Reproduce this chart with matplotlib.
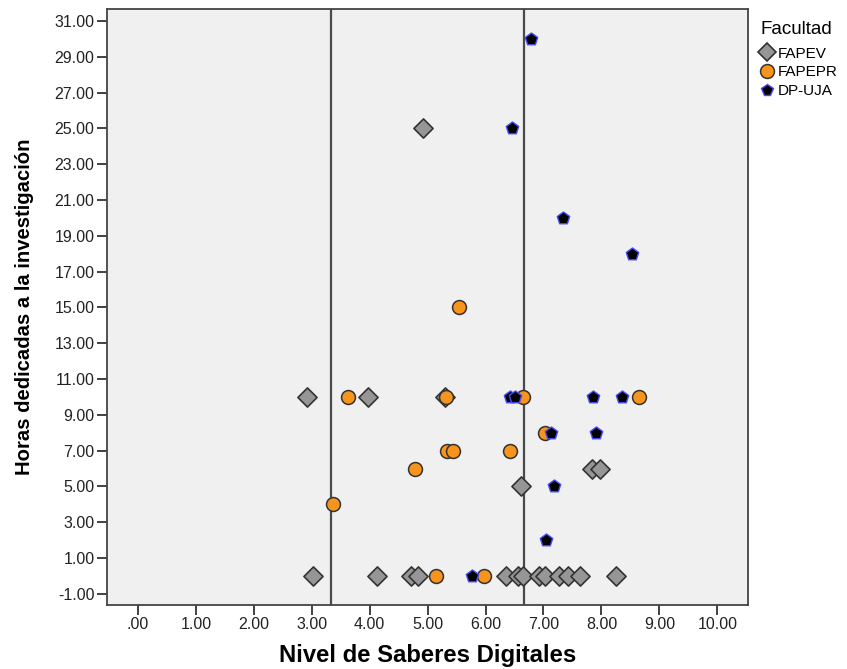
import matplotlib
matplotlib.use("Agg")
import matplotlib.pyplot as plt
from matplotlib.lines import Line2D

# Nivel de Saberes Digitales (x) vs Horas dedicadas a la investigación (y)
fapev_x = [4.92, 2.92, 3.97, 5.30, 6.61, 7.84, 7.98,
           3.02, 4.13, 4.72, 4.84, 6.36, 6.56, 6.65, 6.93, 7.03, 7.27, 7.43, 7.63, 8.26]
fapev_y = [25, 10, 10, 10, 5, 6, 6,
           0, 0, 0, 0, 0, 0, 0, 0, 0, 0, 0, 0, 0]

fapepr_x = [5.54, 3.63, 5.32, 6.65, 8.65, 7.02, 5.33, 5.43, 6.42, 4.78, 3.36, 5.15, 5.98]
fapepr_y = [15, 10, 10, 10, 10, 8, 7, 7, 7, 6, 4, 0, 0]

dpuja_x = [6.79, 6.45, 7.33, 8.52, 6.42, 6.50, 7.85, 8.36, 7.13, 7.91, 7.18, 7.05, 5.77]
dpuja_y = [30, 25, 20, 18, 10, 10, 10, 10, 8, 8, 5, 2, 0]

ref_lines = [10 / 3, 20 / 3]

x_ticks = [0, 1, 2, 3, 4, 5, 6, 7, 8, 9, 10]
x_labels = [".00", "1.00", "2.00", "3.00", "4.00", "5.00", "6.00", "7.00", "8.00", "9.00", "10.00"]
y_ticks = [-1, 1, 3, 5, 7, 9, 11, 13, 15, 17, 19, 21, 23, 25, 27, 29, 31]
y_labels = ["-1.00"] + ["%.2f" % v for v in y_ticks[1:]]

narrow = ["Liberation Sans Narrow", "Liberation Sans", "DejaVu Sans"]
wide = ["Liberation Sans", "DejaVu Sans"]
plt.rcParams["font.family"] = narrow

fig = plt.figure(figsize=(8.47, 6.69), dpi=100)
ax = fig.add_axes([0.1263, 0.0957, 0.7568, 0.8908])
ax.set_facecolor("#f0f0f0")

for v in ref_lines:
    ax.axvline(v, color="#4a4a4a", lw=1.6, zorder=1)

ax.scatter(fapev_x, fapev_y, marker="D", s=95, facecolor="#969696",
           edgecolor="#333333", linewidths=1.2, zorder=3)
ax.scatter(fapepr_x, fapepr_y, marker="o", s=100, facecolor="#f7941d",
           edgecolor="#333333", linewidths=1.1, zorder=4)
ax.scatter(dpuja_x, dpuja_y, marker="p", s=88, facecolor="black",
           edgecolor="#4a4aff", linewidths=1.0, zorder=5)

ax.set_xlim(-0.535, 10.53)
ax.set_ylim(-1.62, 31.67)
ax.set_xticks(x_ticks)
ax.set_xticklabels(x_labels)
ax.set_yticks(y_ticks)
ax.set_yticklabels(y_labels)
ax.tick_params(axis="both", direction="out", length=7, width=1.3, color="#333333",
               labelsize=11.5, labelcolor="#222222")
ax.tick_params(axis="x", pad=2)
ax.tick_params(axis="y", pad=2)
for sp in ax.spines.values():
    sp.set_color("#444444")
    sp.set_linewidth(1.3)

ax.set_xlabel("Nivel de Saberes Digitales", fontsize=17.2, fontweight="bold",
              family=wide, labelpad=8)
ax.set_ylabel("Horas dedicadas a la investigación", fontsize=14.6, fontweight="bold",
              labelpad=15)

handles = [
    Line2D([], [], marker="D", ls="none", markersize=9.5, markerfacecolor="#969696",
           markeredgecolor="#333333", markeredgewidth=1.2, label="FAPEV"),
    Line2D([], [], marker="o", ls="none", markersize=10, markerfacecolor="#f7941d",
           markeredgecolor="#333333", markeredgewidth=1.1, label="FAPEPR"),
    Line2D([], [], marker="p", ls="none", markersize=8.5, markerfacecolor="black",
           markeredgecolor="#4a4aff", markeredgewidth=1.0, label="DP-UJA"),
]
leg = ax.legend(handles=handles, title="Facultad", loc="upper left",
                bbox_to_anchor=(1.005, 0.995), frameon=False,
                prop={"family": wide, "size": 11},
                handlelength=0.9, handletextpad=0.25,
                labelspacing=0.32, borderaxespad=0.2)
leg.get_title().set_fontfamily(wide)
leg.get_title().set_fontsize(13.5)
leg._legend_box.align = "left"
leg._legend_box.sep = 6

fig.savefig("out.png", dpi=100, facecolor="white")
